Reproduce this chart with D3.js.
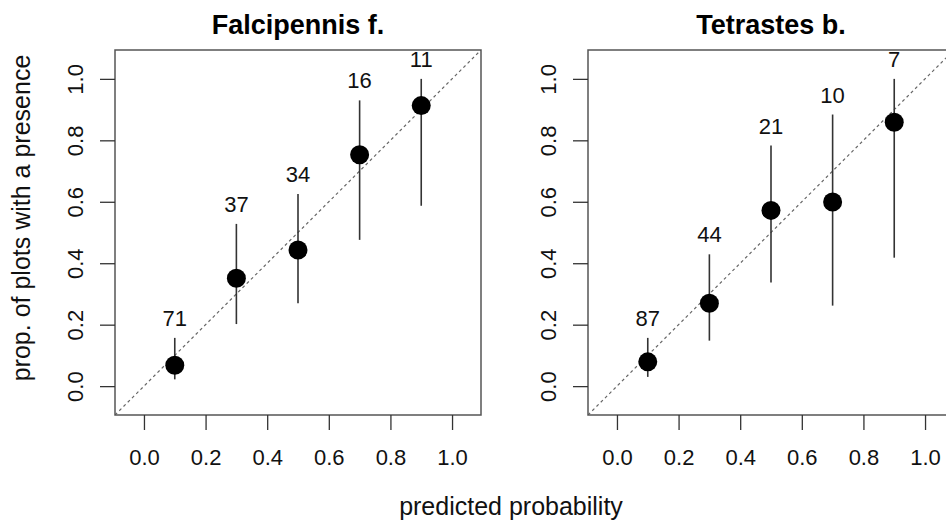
<!DOCTYPE html>
<meta charset="utf-8">
<div id="chart"></div>
<style>
body { margin: 0; background: #fff; font-family: 'Liberation Sans', Arial, sans-serif; }
</style>
<script src="https://d3js.org/d3.v7.min.js"></script>
<script>
// calibration bins (centre of each predicted-probability class)
var binMid = [0.1, 0.3, 0.5, 0.7, 0.9];
var species = ["Falcipennis f.", "Tetrastes b."];
var tickVals = [0, 0.2, 0.4, 0.6, 0.8, 1.0];

// Falcipennis f.
var falcProp = [0.068, 0.351, 0.443, 0.753, 0.913];
var falcLow  = [0.022, 0.202, 0.270, 0.476, 0.587];
var falcHigh = [0.157, 0.528, 0.625, 0.930, 1.000];
var falcN    = [71, 37, 34, 16, 11];

// Tetrastes b.
var tetrProp = [0.079, 0.270, 0.572, 0.599, 0.859];
var tetrLow  = [0.030, 0.148, 0.337, 0.262, 0.418];
var tetrHigh = [0.157, 0.429, 0.783, 0.884, 1.000];
var tetrN    = [87, 44, 21, 10, 7];

var panels = [
  {title: species[0], prop: falcProp, low: falcLow, high: falcHigh, n: falcN, x0: 115},
  {title: species[1], prop: tetrProp, low: tetrLow, high: tetrHigh, n: tetrN, x0: 588}
];

var W = 946, H = 520;
var pw = 366, plotTop = 50, plotBottom = 415;
var dom = [-0.094, 1.094];

var svg = d3.select("#chart").append("svg")
  .attr("width", W).attr("height", H);

panels.forEach(function(p, k) {
  var x = d3.scaleLinear().domain(dom).range([p.x0, p.x0 + pw]);
  var y = d3.scaleLinear().domain(dom).range([plotBottom, plotTop]);

  var g = svg.append("g");

  g.append("clipPath").attr("id", "clip" + k)
    .append("rect")
    .attr("x", p.x0).attr("y", plotTop)
    .attr("width", pw).attr("height", plotBottom - plotTop);

  // 1:1 reference line
  g.append("line")
    .attr("clip-path", "url(#clip" + k + ")")
    .attr("x1", x(dom[0])).attr("y1", y(dom[0]))
    .attr("x2", x(dom[1])).attr("y2", y(dom[1]))
    .attr("stroke", "#666").attr("stroke-width", 1.2)
    .attr("stroke-dasharray", "3,3");

  // box
  g.append("rect")
    .attr("x", p.x0).attr("y", plotTop)
    .attr("width", pw).attr("height", plotBottom - plotTop)
    .attr("fill", "none").attr("stroke", "#555").attr("stroke-width", 1.5);

  // x axis
  var xa = g.append("g")
    .attr("transform", "translate(0," + plotBottom + ")")
    .call(d3.axisBottom(x).tickValues(tickVals).tickSize(15).tickFormat(d3.format(".1f")));
  xa.select(".domain").remove();
  xa.selectAll("line").attr("stroke", "#333").attr("stroke-width", 1.3);
  xa.selectAll("text")
    .attr("y", 50).attr("dy", 0)
    .attr("fill", "#111")
    .style("font-size", "22px")
    .style("font-family", "'Liberation Sans', Arial, sans-serif");

  // y axis
  var ya = g.append("g")
    .attr("transform", "translate(" + p.x0 + ",0)")
    .call(d3.axisLeft(y).tickValues(tickVals).tickSize(15).tickFormat(d3.format(".1f")));
  ya.select(".domain").remove();
  ya.selectAll("line").attr("stroke", "#333").attr("stroke-width", 1.3);
  ya.selectAll("text")
    .attr("transform", "rotate(-90)")
    .attr("x", 0).attr("y", -32).attr("dy", 0)
    .attr("text-anchor", "middle")
    .attr("fill", "#111")
    .style("font-size", "22px")
    .style("font-family", "'Liberation Sans', Arial, sans-serif");

  // confidence bars
  g.selectAll(".ci")
    .data(binMid)
    .enter().append("line")
    .attr("x1", function(d) { return x(d); })
    .attr("x2", function(d) { return x(d); })
    .attr("y1", function(d, i) { return y(p.low[i]); })
    .attr("y2", function(d, i) { return y(p.high[i]); })
    .attr("stroke", "#333").attr("stroke-width", 1.6);

  // points
  g.selectAll(".pt")
    .data(binMid)
    .enter().append("circle")
    .attr("cx", function(d) { return x(d); })
    .attr("cy", function(d, i) { return y(p.prop[i]); })
    .attr("r", 9.5)
    .attr("fill", "#000");

  // sample sizes
  g.selectAll(".cnt")
    .data(binMid)
    .enter().append("text")
    .attr("x", function(d) { return x(d); })
    .attr("y", function(d, i) { return y(p.high[i]) - 12; })
    .attr("text-anchor", "middle")
    .style("font-size", "22px")
    .attr("fill", "#111")
    .text(function(d, i) { return p.n[i]; });

  // title
  g.append("text")
    .attr("x", p.x0 + pw / 2).attr("y", 34)
    .attr("text-anchor", "middle")
    .style("font-size", "27px").style("font-weight", "bold")
    .attr("fill", "#000")
    .text(p.title);
});

svg.append("text")
  .attr("transform", "translate(30,218) rotate(-90)")
  .attr("text-anchor", "middle")
  .style("font-size", "25px")
  .attr("fill", "#111")
  .text("prop. of plots with a presence");

svg.append("text")
  .attr("x", 511).attr("y", 515)
  .attr("text-anchor", "middle")
  .style("font-size", "25px")
  .attr("fill", "#111")
  .text("predicted probability");
</script>
